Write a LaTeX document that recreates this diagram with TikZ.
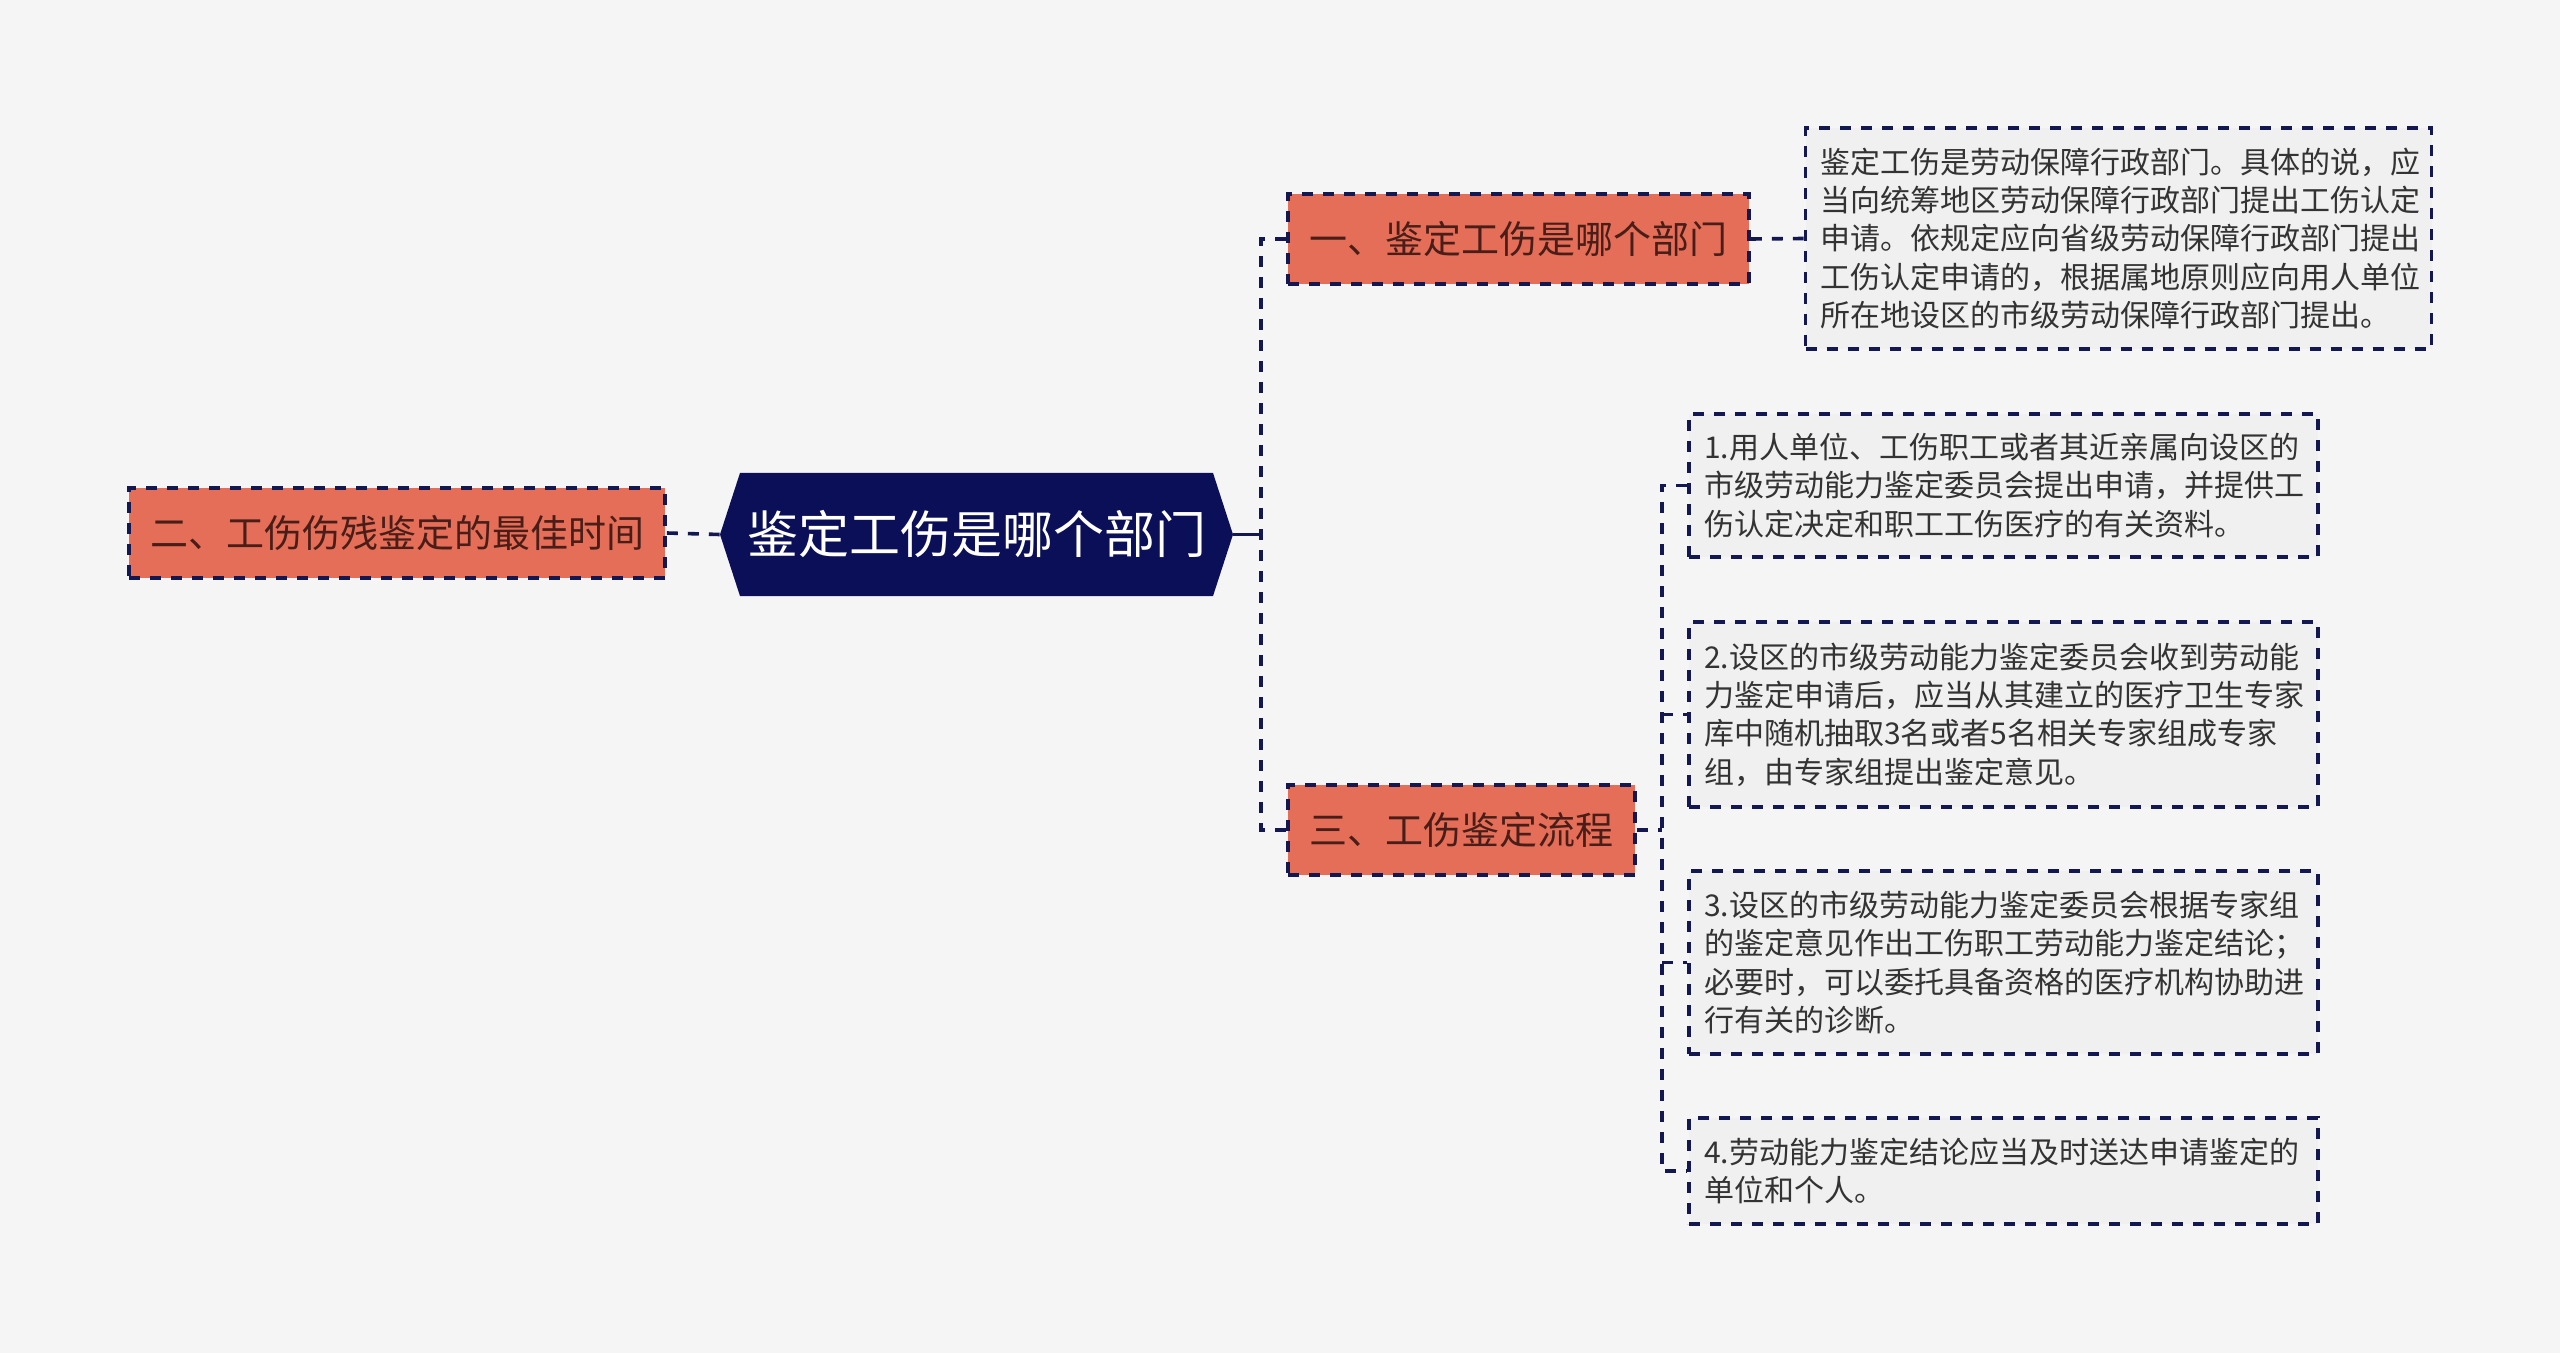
\documentclass[tikz,border=0pt]{standalone}
\usepackage{fontspec}
\setmainfont{Noto Sans CJK SC}
\usetikzlibrary{shapes.symbols}

\definecolor{bgcol}{HTML}{F5F5F5}
\definecolor{navyfill}{HTML}{0A0F57}
\definecolor{navyline}{HTML}{141850}
\definecolor{topicfill}{HTML}{E56E58}
\definecolor{topictext}{HTML}{4A1E18}
\definecolor{notefill}{HTML}{F0F0F0}
\definecolor{notetext}{HTML}{333333}

\tikzset{
  dashline/.style={draw=navyline, line width=1.8pt, dash pattern=on 5.5pt off 5pt},
  topic/.style={dashline, fill=topicfill, text=topictext, inner sep=0pt,
    minimum height=45pt, font=\fontsize{19pt}{23pt}\selectfont},
  note/.style={dashline, fill=notefill, text=notetext, align=left,
    inner xsep=7.5pt, inner ysep=0pt, text width=299.5pt,
    font=\fontsize{15pt}{19.2pt}\selectfont}
}

\begin{document}
\begin{tikzpicture}[x=0.5pt,y=-0.5pt]
  \fill[bgcol] (0,0) rectangle (2560,1353);

  % centre topic
  \node[shape=signal, signal to=west and east, signal pointer angle=144,
        fill=navyfill, text=white, inner sep=0pt,
        minimum width=256.5pt, minimum height=61.5pt,
        font=\fontsize{25.5pt}{30pt}\selectfont] (root) at (976.5,534.5) {鉴定工伤是哪个部门};

  % main branches
  \node[topic, minimum width=268pt] (left) at (397,533) {二、工伤伤残鉴定的最佳时间};
  \node[topic, minimum width=230.5pt] (dept) at (1518.5,239) {一、鉴定工伤是哪个部门};
  \node[topic, minimum width=173.5pt] (flow) at (1461.5,830) {三、工伤鉴定流程};

  % notes
  \node[note, text width=298pt, minimum height=110.5pt] (deptnote) at (2118.5,238.5) {鉴定工伤是劳动保障行政部门。具体的说，应\\当向统筹地区劳动保障行政部门提出工伤认定\\申请。依规定应向省级劳动保障行政部门提出\\工伤认定申请的，根据属地原则应向用人单位\\所在地设区的市级劳动保障行政部门提出。};

  \node[note, minimum height=71.5pt] (step1) at (2003.5,485.5) {1.用人单位、工伤职工或者其近亲属向设区的\\市级劳动能力鉴定委员会提出申请，并提供工\\伤认定决定和职工工伤医疗的有关资料。};
  \node[note, minimum height=92.5pt] (step2) at (2003.5,714.5) {2.设区的市级劳动能力鉴定委员会收到劳动能\\力鉴定申请后，应当从其建立的医疗卫生专家\\库中随机抽取3名或者5名相关专家组成专家\\组，由专家组提出鉴定意见。};
  \node[note, minimum height=91.5pt] (step3) at (2003.5,962.5) {3.设区的市级劳动能力鉴定委员会根据专家组\\的鉴定意见作出工伤职工劳动能力鉴定结论；\\必要时，可以委托具备资格的医疗机构协助进\\行有关的诊断。};
  \node[note, minimum height=53pt] (step4) at (2003.5,1171) {4.劳动能力鉴定结论应当及时送达申请鉴定的\\单位和个人。};

  % connectors
  \coordinate (rootjoin) at (1261,534.5);
  \coordinate (flowjoin) at (1662,830);

  \draw[dashline] (left.east) -- (root.west);
  \draw[navyline, line width=1.8pt] (root.east) -- (rootjoin);
  \draw[dashline] (dept.west) -| (rootjoin) |- (flow.west);
  \draw[dashline] (dept.east) -- (deptnote.west);

  \draw[dashline] (flow.east) -- (flowjoin);
  \draw[dashline] (step1.west) -| (flowjoin) |- (step4.west);
  \draw[dashline] (flowjoin |- step2.west) -- (step2.west);
  \draw[dashline] (flowjoin |- step3.west) -- (step3.west);
\end{tikzpicture}
\end{document}
